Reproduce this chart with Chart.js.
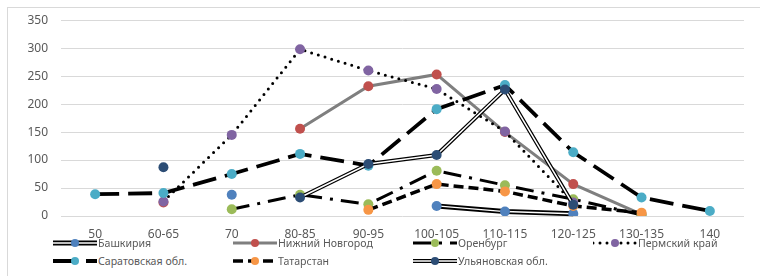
<!DOCTYPE html>
<html>
<head>
<meta charset="utf-8">
<script src="https://cdn.jsdelivr.net/npm/chart.js@4/dist/chart.umd.min.js"></script>
<style>
    html, body { margin: 0; padding: 0; background: #fff; }
    #wrap { position: relative; width: 760px; height: 276px; overflow: hidden; }
    #frame { position: absolute; left: 7px; top: 7px; width: 800px; height: 300px; border: 1px solid #d9d9d9; }
    #chartBox { position: absolute; left: 0; top: 0; width: 760px; height: 242px; }
    #legend { position: absolute; left: 0; top: 0; font: 10.6px "Noto Sans", sans-serif; color: #595959; }
    .item { position: absolute; display: flex; align-items: center; white-space: nowrap; height: 14px; }
</style>
</head>
<body>
<div id="wrap">
    <div id="frame"></div>
    <div id="chartBox"><canvas id="lineChart" width="760" height="242"></canvas></div>
    <div id="legend"></div>
</div>
<script>
// Data
const categories = ['50', '60-65', '70', '80-85', '90-95', '100-105', '110-115', '120-125', '130-135', '140'];
const bashkiria = [null, null, 38, null, null, 18, 8, 4, null, null];
const nizhny    = [null, 24, null, 156, 232, 253, 150, 57, 3, null];
const orenburg  = [null, null, 12, 38, 21, 81, 55, 30, 2, null];
const perm      = [null, 26, 145, 298, 260, 227, 151, 24, null, null];
const saratov   = [39, 41, 75, 111, 90, 191, 234, 114, 33, 9];
const tatarstan = [null, null, null, null, 11, 57, 44, 18, 6, null];
const ulyanovsk = [null, 87, null, 33, 93, 109, 226, 20, null, null];
const yTicks = [0, 50, 100, 150, 200, 250, 300, 350];

// Series look (Excel-like line styles)
const series = [
    { label: 'Башкирия', data: bashkiria, marker: '#4f81bd', line: '#ffffff', width: 1.3, dash: [], outline: 5 },
    { label: 'Нижний Новгород', data: nizhny, marker: '#c0504d', line: '#7f7f7f', width: 3, dash: [] },
    { label: 'Оренбург', data: orenburg, marker: '#9bbb59', line: '#000000', width: 3, dash: [18, 8, 3, 8] },
    { label: 'Пермский край', data: perm, marker: '#8064a2', line: '#000000', width: 3, dash: [0, 7], cap: 'round' },
    { label: 'Саратовская обл.', data: saratov, marker: '#4bacc6', line: '#000000', width: 3.8, dash: [24, 9] },
    { label: 'Татарстан', data: tatarstan, marker: '#f79646', line: '#000000', width: 3.5, dash: [10, 5] },
    { label: 'Ульяновская обл.', data: ulyanovsk, marker: '#2c4d75', line: '#ffffff', width: 1.5, dash: [], outline: 4 }
];

// draws the black outer stroke of the "double" lines under the dataset's own white line
const outlinePlugin = {
    id: 'outline',
    beforeDatasetDraw(chart, args) {
        const ds = chart.data.datasets[args.index];
        if (!ds.outlineWidth) return;
        const ctx = chart.ctx;
        ctx.save();
        ctx.strokeStyle = '#000';
        ctx.lineWidth = ds.outlineWidth;
        ctx.lineJoin = 'round';
        ctx.beginPath();
        let pen = false;
        args.meta.data.forEach(function(p, i) {
            if (ds.data[i] === null || p.skip) { pen = false; return; }
            if (pen) ctx.lineTo(p.x, p.y); else ctx.moveTo(p.x, p.y);
            pen = true;
        });
        ctx.stroke();
        ctx.restore();
    }
};

const tickFont = { family: "'Noto Sans', sans-serif", size: 12 };

const lineChart = new Chart(document.getElementById('lineChart').getContext('2d'), {
    type: 'line',
    data: {
        labels: categories,
        datasets: series.map(function(s, i) {
            return {
                label: s.label,
                data: s.data,
                borderColor: s.line,
                borderWidth: s.width,
                borderDash: s.dash,
                borderCapStyle: s.cap || 'butt',
                outlineWidth: s.outline || 0,
                pointRadius: 5,
                pointBorderWidth: 0,
                pointBackgroundColor: s.marker,
                pointBorderColor: s.marker,
                tension: 0,
                spanGaps: false,
                fill: false,
                order: series.length - 1 - i
            };
        })
    },
    options: {
        responsive: false,
        animation: false,
        devicePixelRatio: 1,
        layout: { padding: { left: 0, right: 16, top: 19, bottom: 0 } },
        scales: {
            x: {
                offset: true,
                grid: { display: false, drawTicks: false, offset: true },
                border: { display: false },
                ticks: { color: '#595959', font: tickFont, padding: 11, maxRotation: 0, autoSkip: false },
                afterFit: function(s) { s.height = 26; }
            },
            y: {
                min: 0,
                max: 350,
                afterBuildTicks: function(s) { s.ticks = yTicks.map(function(v) { return { value: v }; }); },
                grid: { color: '#d9d9d9', lineWidth: 1, drawTicks: false },
                border: { display: false },
                ticks: { color: '#595959', font: tickFont, padding: 13 },
                afterFit: function(s) { s.width = 61; }
            }
        },
        plugins: {
            legend: { display: false },
            tooltip: { enabled: false }
        }
    },
    plugins: [outlinePlugin]
});

// Legend: 4-column grid like the original
function buildLegend() {
    const legend = document.getElementById('legend');
    const colX = [53, 233, 413, 593];
    const rowY = [236, 254];
    series.forEach(function(s, i) {
        const item = document.createElement('div');
        item.className = 'item';
        item.style.left = colX[i % 4] + 'px';
        item.style.top = rowY[Math.floor(i / 4)] + 'px';

        const sw = document.createElement('canvas');
        sw.width = 45;
        sw.height = 14;
        const c = sw.getContext('2d');
        const y = 7;
        if (s.outline) {
            c.strokeStyle = '#000';
            c.lineWidth = s.outline;
            c.beginPath(); c.moveTo(0, y); c.lineTo(44, y); c.stroke();
        }
        c.strokeStyle = s.line;
        c.lineWidth = s.width;
        c.lineCap = s.cap || 'butt';
        c.setLineDash(s.dash);
        c.beginPath(); c.moveTo(0, y); c.lineTo(44, y); c.stroke();
        c.setLineDash([]);
        c.fillStyle = s.marker;
        c.beginPath(); c.arc(22, y, 4, 0, Math.PI * 2); c.fill();

        const txt = document.createElement('span');
        txt.textContent = s.label;
        item.appendChild(sw);
        item.appendChild(txt);
        legend.appendChild(item);
    });
}
buildLegend();
</script>
</body>
</html>
